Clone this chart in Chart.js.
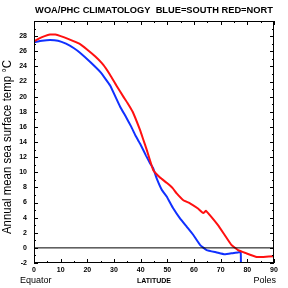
<!DOCTYPE html>
<html>
<head>
<meta charset="utf-8">
<script src="https://cdn.jsdelivr.net/npm/chart.js@4.4.1/dist/chart.umd.min.js"></script>
<style>
  html, body { margin: 0; padding: 0; background: #fff; }
  #wrap { width: 288px; height: 288px; }
</style>
</head>
<body>
<div id="wrap"><canvas id="chart"></canvas></div>
<script>
// latitude / temperature
var northLat = [0, 2, 4, 6, 8, 10, 13, 17, 20, 23, 26, 28.5, 31, 33.5, 35, 37, 39.75, 41, 42.25, 44.7, 47.25, 49.75, 52, 53.5, 56, 58.5, 61.5, 63.5, 64.5, 66.5, 69, 71.5, 74, 76.5, 79.5, 83.5, 86, 90];
var northTemp = [27.3, 27.7, 28.0, 28.2, 28.2, 28.0, 27.6, 27.0, 26.2, 25.3, 24.2, 22.9, 21.4, 20.0, 19.2, 18.0, 15.6, 14.3, 13.0, 10.3, 9.3, 8.6, 7.9, 7.2, 6.3, 5.9, 5.2, 4.6, 4.9, 4.1, 3.0, 1.7, 0.4, -0.3, -0.7, -1.2, -1.2, -1.1];

var southLat = [0, 3, 6, 9, 12, 15, 17.25, 21, 25, 28.5, 32.25, 34.5, 36.5, 38, 39.75, 42, 43.5, 44.7, 46, 47.9, 49.75, 52.25, 54.75, 57.25, 59.75, 62.25, 64.75, 68.5, 71.5, 74.5, 76.5, 77.5, 77.6];
var southTemp = [27.2, 27.4, 27.5, 27.4, 27.0, 26.4, 25.8, 24.6, 23.2, 21.5, 18.7, 17.3, 16.0, 14.9, 13.8, 12.2, 11.2, 10.5, 9.2, 7.7, 6.8, 5.2, 3.9, 2.8, 1.7, 0.4, -0.3, -0.6, -0.85, -0.7, -0.6, -0.55, -2];

var zeroLat = [0, 90];
var zeroTemp = [0, 0];

var xTicks = [0, 10, 20, 30, 40, 50, 60, 70, 80, 90];
var yTicks = [-2, 0, 2, 4, 6, 8, 10, 12, 14, 16, 18, 20, 22, 24, 26, 28];

var titleText = "WOA/PHC CLIMATOLOGY  BLUE=SOUTH RED=NORT";
var yTitle = "Annual mean sea surface temp \u00B0C";

function pts(xs, ys) {
  return xs.map(function (x, i) { return { x: x, y: ys[i] }; });
}

// frame, inward ticks and the extra texts
var framePlugin = {
  id: "frame",
  afterDatasetsDraw: function (chart) {
    var c = chart.ctx, a = chart.chartArea;
    var xs = chart.scales.x, ys = chart.scales.y;
    c.save();
    c.strokeStyle = "#000";
    c.lineWidth = 1;
    c.strokeRect(a.left + 0.5, a.top + 0.5, a.right - a.left - 1, a.bottom - a.top - 1);
    c.beginPath();
    for (var v = 0; v <= 90; v += 5) {
      var px = Math.round(xs.getPixelForValue(v)) + 0.5;
      var len = v % 10 === 0 ? 4 : 2;
      c.moveTo(px, a.bottom); c.lineTo(px, a.bottom - len);
      c.moveTo(px, a.top); c.lineTo(px, a.top + len);
    }
    for (var t = -2; t <= 30; t += 1) {
      var py = Math.round(ys.getPixelForValue(t)) + 0.5;
      var l = t % 2 === 0 ? 4 : 2;
      c.moveTo(a.left, py); c.lineTo(a.left + l, py);
      c.moveTo(a.right, py); c.lineTo(a.right - l, py);
    }
    c.stroke();

    c.fillStyle = "#000";
    c.textBaseline = "middle";
    // title, sized to the plot width
    var size = 10;
    c.font = "bold " + size + "px 'Liberation Sans', Arial, sans-serif";
    var w = c.measureText(titleText).width;
    size = size * 238 / w;
    c.font = "bold " + size.toFixed(2) + "px 'Liberation Sans', Arial, sans-serif";
    c.textAlign = "center";
    c.fillText(titleText, (a.left + a.right) / 2, 10);

    // rotated y title, a bit condensed like the original
    c.save();
    c.translate(8, 147);
    c.rotate(-Math.PI / 2);
    c.font = "12px 'Liberation Sans', Arial, sans-serif";
    c.fillText(yTitle, 0, 0, 174);
    c.restore();

    c.font = "9px 'Liberation Sans', Arial, sans-serif";
    c.textAlign = "left";
    c.fillText("Equator", 20, 281);
    c.textAlign = "right";
    c.fillText("Poles", 276, 281);
    c.textAlign = "center";
    c.font = "bold 7px 'Liberation Sans', Arial, sans-serif";
    c.fillText("LATITUDE", (a.left + a.right) / 2, 281);
    c.restore();
  }
};

new Chart(document.getElementById("chart"), {
  type: "scatter",
  data: {
    datasets: [
      {
        label: "zero",
        data: pts(zeroLat, zeroTemp),
        showLine: true,
        borderColor: "#000",
        borderWidth: 1,
        pointRadius: 0,
      },
      {
        label: "North",
        data: pts(northLat, northTemp),
        showLine: true,
        borderColor: "#ff1010",
        borderWidth: 2,
        pointRadius: 0,
        tension: 0.1,
      },
      {
        label: "South",
        data: pts(southLat, southTemp),
        showLine: true,
        borderColor: "#1030ff",
        borderWidth: 2,
        pointRadius: 0,
        tension: 0.1,
      },
    ],
  },
  options: {
    responsive: true,
    maintainAspectRatio: false,
    animation: false,
    layout: { padding: { top: 21, right: 14, left: 0, bottom: 0 } },
    plugins: {
      legend: { display: false },
      tooltip: { enabled: false },
    },
    scales: {
      x: {
        type: "linear",
        min: 0,
        max: 90,
        afterFit: function (s) { s.height = 25; },
        afterBuildTicks: function (s) { s.ticks = xTicks.map(function (v) { return { value: v }; }); },
        grid: { display: false, drawTicks: false },
        border: { display: false },
        ticks: {
          padding: 3,
          color: "#000",
          maxRotation: 0,
          font: { size: 7, weight: "bold", family: "'Liberation Sans', Arial, sans-serif" },
        },
      },
      y: {
        type: "linear",
        min: -2,
        max: 30,
        afterFit: function (s) { s.width = 34; },
        afterBuildTicks: function (s) { s.ticks = yTicks.map(function (v) { return { value: v }; }); },
        grid: { display: false, drawTicks: false },
        border: { display: false },
        ticks: {
          padding: 7,
          color: "#000",
          font: { size: 7, weight: "bold", family: "'Liberation Sans', Arial, sans-serif" },
        },
      },
    },
  },
  plugins: [framePlugin],
});
</script>
</body>
</html>
